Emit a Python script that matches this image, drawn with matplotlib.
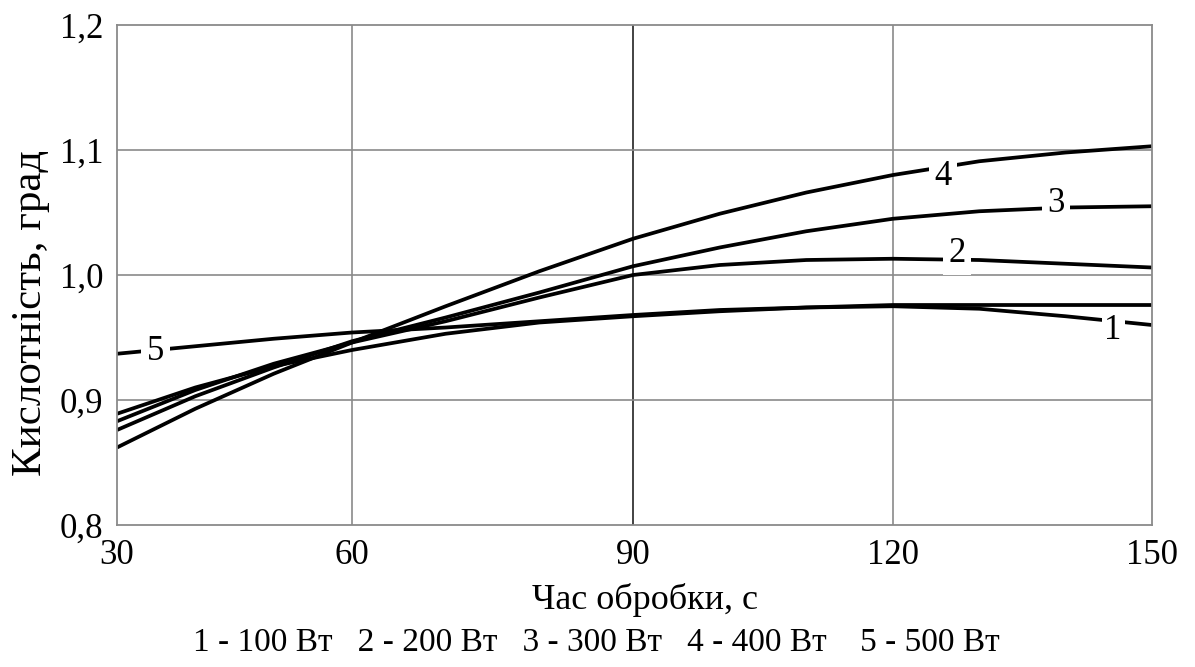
import numpy as np
import matplotlib
matplotlib.use('Agg')
import matplotlib.pyplot as plt
from matplotlib.scale import FuncScale

plt.rcParams['font.family'] = ['Liberation Serif', 'DejaVu Serif']

# time of treatment, s
t = [30, 40, 50, 60, 70, 80, 90, 100, 110, 120, 130, 140, 150]

# acidity, deg
k1 = [0.889, 0.910, 0.927, 0.940, 0.953, 0.962, 0.967, 0.971, 0.974, 0.975, 0.973, 0.967, 0.960]
k2 = [0.883, 0.908, 0.929, 0.946, 0.963, 0.982, 1.000, 1.008, 1.012, 1.013, 1.012, 1.009, 1.006]
k3 = [0.876, 0.903, 0.926, 0.947, 0.966, 0.986, 1.007, 1.022, 1.035, 1.045, 1.051, 1.054, 1.055]
k4 = [0.862, 0.893, 0.921, 0.946, 0.975, 1.003, 1.029, 1.049, 1.066, 1.080, 1.091, 1.098, 1.103]
k5 = [0.937, 0.943, 0.949, 0.954, 0.958, 0.963, 0.968, 0.972, 0.974, 0.976, 0.976, 0.976, 0.976]
curves = [k1, k2, k3, k4, k5]

# curve numbers placed on the lines (x, y)
lab_txt = ['1', '2', '3', '4', '5']
lab_x = [145.5, 127.4, 138.9, 125.8, 34.9]
lab_y = [0.9560, 1.0176, 1.057, 1.079, 0.939]

xticks = [30, 60, 90, 120, 150]
yticks = [0.8, 0.9, 1.0, 1.1, 1.2]
ytick_lab = ['0,8', '0,9', '1,0', '1,1', '1,2']
legend_txt = '1 - 100 Вт   2 - 200 Вт   3 - 300 Вт   4 - 400 Вт    5 - 500 Вт'

# the original x axis is not quite uniform, keep its grid positions
xpix = [0, 235, 516, 776, 1035]
fwd = lambda v: np.interp(v, xticks, xpix)
inv = lambda v: np.interp(v, xpix, xticks)

fig = plt.figure(figsize=(11.95, 6.67), dpi=100)
ax = fig.add_axes([0.0979, 0.2129, 0.8661, 0.7496])
ax.set_xscale(FuncScale(ax.xaxis, (fwd, inv)))

for k in curves:
    ax.plot(t, k, c='k', lw=2.7, zorder=2, solid_capstyle='butt')

for s, x, y in zip(lab_txt, lab_x, lab_y):
    ax.text(x, y, s, fontsize=25, ha='center', va='center', zorder=3,
            bbox=dict(facecolor='white', edgecolor='none',
                      pad=2 if s == '1' else 4))

ax.set_xlim(30, 150)
ax.set_ylim(0.8, 1.2)
ax.set_xticks(xticks)
ax.set_xticklabels([str(v) for v in xticks])
ax.set_yticks(yticks)
ax.set_yticklabels(ytick_lab)
ax.tick_params(length=0, labelsize=25, pad=10)

for v in xticks[1:-1]:
    ax.axvline(v, c='#222222' if v == 90 else '#8a8a8a', lw=1.2, zorder=1)
for v in yticks[1:-1]:
    ax.axhline(v, c='#8a8a8a', lw=1.2, zorder=1)
for sp in ax.spines.values():
    sp.set_color('#8a8a8a')
    sp.set_linewidth(1.3)

fig.text(0.540, 0.100, 'Час обробки, с', fontsize=26, ha='center', va='center')
fig.text(0.026, 0.531, 'Кислотність, град', fontsize=31, rotation=90,
         ha='center', va='center')
fig.text(0.499, 0.036, legend_txt, fontsize=24, ha='center', va='center')

fig.savefig('out.png', dpi=100)
